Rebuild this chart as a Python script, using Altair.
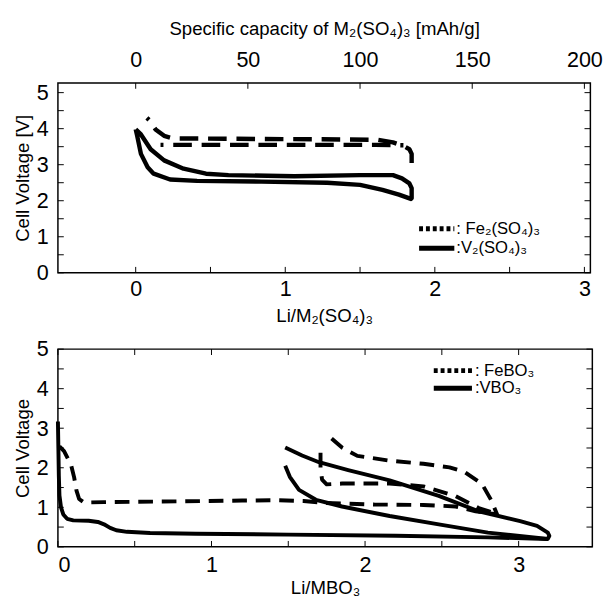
import altair as alt
import pandas as pd

# ---------------- data ----------------
# Top panel: Li/M2(SO4)3 vs cell voltage
fe2_seg_a_x = [0.075, 0.09, 0.133, 0.19, 0.25, 0.6, 1.0, 1.4, 1.62, 1.72, 1.79, 1.83, 1.845, 1.845]
fe2_seg_a_y = [4.30, 4.24, 3.98, 3.80, 3.73, 3.72, 3.71, 3.70, 3.69, 3.62, 3.52, 3.43, 3.30, 3.02]
fe2_seg_b_x = [0.166, 0.5, 0.9, 1.3, 1.6, 1.79]
fe2_seg_b_y = [3.55, 3.55, 3.55, 3.55, 3.55, 3.54]

v2_x = [0.0, 0.035, 0.10, 0.19, 0.32, 0.47, 0.62, 1.06, 1.50, 1.72, 1.78, 1.83, 1.845, 1.845,
        1.84, 1.76, 1.65, 1.50, 1.28, 0.84, 0.41, 0.23, 0.12, 0.08, 0.035, 0.01, 0.0]
v2_y = [3.98, 3.84, 3.43, 3.12, 2.89, 2.75, 2.71, 2.68, 2.71, 2.71, 2.62, 2.48, 2.35, 2.07,
        2.05, 2.17, 2.30, 2.44, 2.50, 2.53, 2.55, 2.59, 2.75, 2.93, 3.30, 3.80, 3.98]

# Bottom panel: Li/MBO3 vs cell voltage
febo3_seg_a_x = [0.01, 0.04, 0.085, 0.106, 0.121, 0.138, 0.17, 0.3, 0.8, 1.2, 1.42, 1.6, 1.74, 2.06,
                 2.38, 2.59, 2.72, 2.84, 2.86, 2.82, 2.76, 2.65, 2.55, 2.38, 2.16, 1.95, 1.85, 1.74]
febo3_seg_a_y = [2.54, 2.42, 2.08, 1.75, 1.42, 1.21, 1.12, 1.13, 1.15, 1.17, 1.18, 1.16, 1.11, 1.07,
                 1.06, 1.02, 0.90, 0.83, 0.82, 1.19, 1.60, 1.89, 2.01, 2.10, 2.18, 2.30, 2.51, 2.88]
febo3_seg_b_x = [1.71, 1.71, 1.72, 1.75, 1.85, 2.16, 2.38, 2.59, 2.74, 2.84]
febo3_seg_b_y = [2.38, 2.00, 1.70, 1.58, 1.60, 1.60, 1.53, 1.28, 0.98, 0.86]

vbo3_seg_a_x = [0.0, 0.003, 0.006, 0.01, 0.02, 0.035, 0.06, 0.1, 0.2, 0.26, 0.3, 0.34, 0.38, 0.45,
                0.6, 0.9, 1.5, 2.2, 2.8, 3.19, 3.20, 3.19, 3.12, 3.01, 2.74, 2.48, 2.16, 1.89,
                1.70, 1.59, 1.48]
vbo3_seg_a_y = [3.17, 2.5, 1.8, 1.3, 1.0, 0.82, 0.71, 0.67, 0.66, 0.63, 0.57, 0.48, 0.42, 0.38,
                0.35, 0.33, 0.31, 0.28, 0.24, 0.20, 0.28, 0.36, 0.53, 0.65, 0.90, 1.29, 1.68, 1.94,
                2.14, 2.31, 2.51]
vbo3_seg_b_x = [1.48, 1.51, 1.57, 1.68, 1.85, 2.16, 2.48, 2.80, 3.19]
vbo3_seg_b_y = [2.05, 1.77, 1.44, 1.19, 1.02, 0.78, 0.57, 0.36, 0.20]

top_x_ticks = [0, 1, 2, 3]
cap_ticks = [0, 50, 100, 150, 200]
y_ticks = [0, 1, 2, 3, 4, 5]
minor_y = [i * 0.5 for i in range(11)]
minor_x_top = [i * 0.5 for i in range(7)]
minor_x_bot = [i * 0.5 for i in range(7)]

# ---------------- helpers ----------------
FONT = "Liberation Sans"
TOP_W, TOP_H = 544, 194
BOT_W, BOT_H = 546, 202
TOP_XDOM = [-0.52, 3.04]
TOP_YDOM = [0, 5.27]
BOT_XDOM = [0, 3.48]
BOT_YDOM = [0, 5]
CAP_PER_LI = 200 / 3
LABEL_FS = 22
TITLE_FS = 19


def seg_df(segs):
    rows = []
    for sid, (xs, ys) in enumerate(segs):
        for i, (x, y) in enumerate(zip(xs, ys)):
            rows.append({"x": x, "y": y, "seg": sid, "i": i})
    return pd.DataFrame(rows)


def line_layer(df, xdom, ydom, dash, width, xaxis, yaxis, offset=0):
    kw = {}
    if dash:
        kw["strokeDash"] = dash
        kw["strokeDashOffset"] = offset
    return alt.Chart(df).mark_line(color="black", strokeWidth=width, strokeCap="butt",
                                   strokeJoin="round", **kw).encode(
        x=alt.X("x:Q", scale=alt.Scale(domain=xdom, nice=False, zero=False), axis=xaxis),
        y=alt.Y("y:Q", scale=alt.Scale(domain=ydom, nice=False, zero=False), axis=yaxis),
        detail="seg:N",
        order="i:Q",
    )


def inner_ticks(xvals, yvals, w, h, xaxis, yaxis, L=6):
    dx = pd.DataFrame({"x": xvals})
    dy = pd.DataFrame({"y": yvals})
    base_y = alt.Chart(dy).mark_rule(color="black", strokeWidth=1)
    base_x = alt.Chart(dx).mark_rule(color="black", strokeWidth=1)
    return [
        base_y.encode(y=alt.Y("y:Q", axis=yaxis), x=alt.value(0), x2=alt.value(L)),
        base_y.encode(y=alt.Y("y:Q", axis=yaxis), x=alt.value(w - L), x2=alt.value(w)),
        base_x.encode(x=alt.X("x:Q", axis=xaxis), y=alt.value(h - L), y2=alt.value(h)),
        base_x.encode(x=alt.X("x:Q", axis=xaxis), y=alt.value(0), y2=alt.value(L)),
    ]


def legend_items(items, x0, x1, tx):
    out = []
    one = pd.DataFrame({"a": [0]})
    for (label, dash, yy) in items:
        kw = {"strokeDash": dash} if dash else {}
        out.append(alt.Chart(one).mark_rule(color="black", strokeWidth=5, strokeCap="butt", **kw)
                   .encode(x=alt.value(x0), x2=alt.value(x1), y=alt.value(yy)))
        out.append(alt.Chart(one).mark_text(align="left", baseline="middle", font=FONT,
                                            fontSize=17, color="black")
                   .encode(x=alt.value(tx), y=alt.value(yy), text=alt.value(label)))
    return out


def yaxis(title):
    return alt.Axis(values=y_ticks, format="d", title=title, labelPadding=10, titlePadding=4,
                    labelOverlap=False, tickCount=6)


# ---------------- top panel ----------------
top_xaxis = alt.Axis(values=top_x_ticks, format="d", title="Li/M₂(SO₄)₃",
                     labelPadding=6, titlePadding=8, labelOverlap=False)
top_yaxis = yaxis("Cell Voltage [V]")

fe2_df = seg_df([(fe2_seg_a_x, fe2_seg_a_y), (fe2_seg_b_x, fe2_seg_b_y)])
v2_df = seg_df([(v2_x, v2_y)])

top_main = [
    line_layer(v2_df, TOP_XDOM, TOP_YDOM, None, 4.5, top_xaxis, top_yaxis),
    line_layer(fe2_df, TOP_XDOM, TOP_YDOM, [19, 10], 4.5, top_xaxis, top_yaxis, offset=16),
]
# inner ticks: left/right every 0.5 V, bottom every 0.5, top at capacity 0..200 step 50
top_ticks = inner_ticks(minor_x_top, minor_y, TOP_W, TOP_H, top_xaxis, top_yaxis)[:3]
top_cap_ticks = alt.Chart(pd.DataFrame({"x": [c / CAP_PER_LI for c in cap_ticks]})).mark_rule(
    color="black", strokeWidth=1).encode(x=alt.X("x:Q", axis=top_xaxis), y=alt.value(0), y2=alt.value(6))
top_leg = legend_items([(": Fe₂(SO₄)₃", [4, 3], 149), (":V₂(SO₄)₃", None, 169)], 369, 405, 407)

top_inner = alt.layer(*top_main, *top_ticks, top_cap_ticks, *top_leg)

cap_layer = alt.Chart(pd.DataFrame({"cap": cap_ticks})).mark_point(opacity=0).encode(
    x=alt.X("cap:Q",
            scale=alt.Scale(domain=[TOP_XDOM[0] * CAP_PER_LI, TOP_XDOM[1] * CAP_PER_LI], nice=False, zero=False),
            axis=alt.Axis(orient="top", values=cap_ticks, format="d",
                          title="Specific capacity of M₂(SO₄)₃ [mAh/g]",
                          labelPadding=12, titlePadding=10, labelOverlap=False))
)

top = alt.layer(top_inner, cap_layer).resolve_scale(x="independent").properties(
    width=TOP_W, height=TOP_H)

# ---------------- bottom panel ----------------
bot_xaxis = alt.Axis(values=top_x_ticks, format="d", title="Li/MBO₃", labelPadding=8,
                     titlePadding=4, labelOverlap=False)
bot_yaxis = yaxis("Cell Voltage")

febo3_df = seg_df([(febo3_seg_a_x, febo3_seg_a_y), (febo3_seg_b_x, febo3_seg_b_y)])
vbo3_df = seg_df([(vbo3_seg_a_x, vbo3_seg_a_y), (vbo3_seg_b_x, vbo3_seg_b_y)])

bot_main = [
    line_layer(vbo3_df, BOT_XDOM, BOT_YDOM, None, 4, bot_xaxis, bot_yaxis),
    line_layer(febo3_df, BOT_XDOM, BOT_YDOM, [15, 9], 4, bot_xaxis, bot_yaxis),
]
bot_ticks = inner_ticks(minor_x_bot, minor_y, BOT_W, BOT_H, bot_xaxis, bot_yaxis)
bot_leg = legend_items([(": FeBO₃", [4, 3], 22), (":VBO₃", None, 40)], 384, 423, 426)

bottom = alt.layer(*bot_main, *bot_ticks, *bot_leg).properties(width=BOT_W, height=BOT_H)

chart = alt.vconcat(top, bottom, spacing=11, background="white").configure_view(
    stroke="black", strokeWidth=1.5
).configure_axis(
    domain=False, ticks=False, grid=False, labelOverlap=False,
    labelFont=FONT, labelFontSize=LABEL_FS, labelColor="black",
    titleFont=FONT, titleFontSize=TITLE_FS, titleFontWeight="normal", titleColor="black",
)

chart.save("out.html", embed_options={"renderer": "svg", "actions": False})
